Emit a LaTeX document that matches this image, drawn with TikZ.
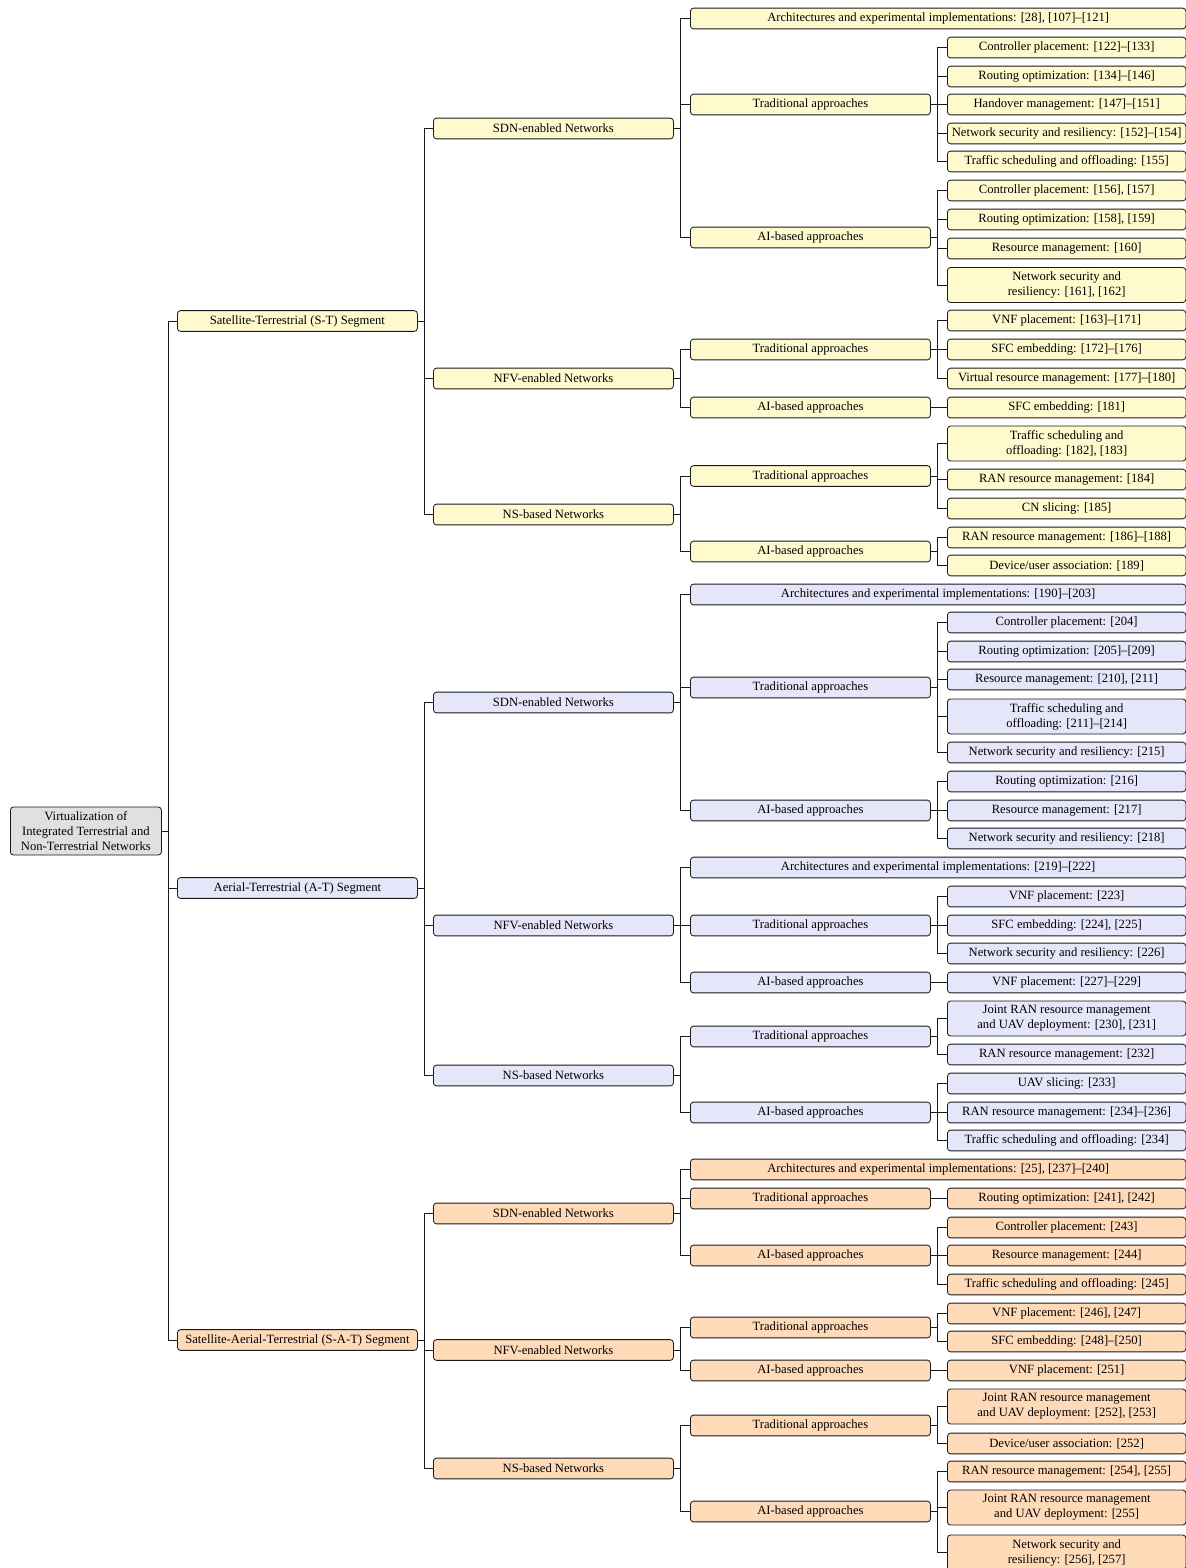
\documentclass[tikz,border=0pt]{standalone}
\usepackage{fontspec}
\setmainfont{Liberation Serif}
\definecolor{cy}{HTML}{FFFACD}
\definecolor{cl}{HTML}{E6E6FA}
\definecolor{cp}{HTML}{FFDAB9}
\definecolor{cg}{HTML}{E0E0E0}
\newcommand\forkto[2]{\foreach \c in {#2}{\draw[ed] (#1.east) -- ++(6.5,0) |- (\c.west);}}
\begin{document}
\begin{tikzpicture}[x=0.8pt,y=-0.8pt,
 bx/.style={draw=black!90, line width=0.65pt, rounded corners=2.5pt, inner sep=1pt, anchor=west, align=center, font=\fontsize{10.1}{12}\selectfont, minimum height=16.6pt},
 L1/.style={bx, minimum width=192pt},
 L4/.style={bx, minimum width=190.8pt},
 AR/.style={bx, minimum width=396.4pt},
 two/.style={minimum height=28pt},
 Y/.style={fill=cy}, V/.style={fill=cl}, P/.style={fill=cp},
 ed/.style={draw=black!90, line width=0.65pt}]
\useasboundingbox (0,0) rectangle (1186,1568);
% root
\node[bx, fill=cg, minimum width=120.8pt, minimum height=38.4pt] (root) at (10,831) {Virtualization of\\Integrated Terrestrial and\\Non-Terrestrial Networks};
% level 1
\node[L1,Y] (st) at (177,321) {Satellite-Terrestrial (S-T) Segment};
\node[L1,V] (at) at (177,888) {Aerial-Terrestrial (A-T) Segment};
\node[L1,P] (sat) at (177,1340) {Satellite-Aerial-Terrestrial (S-A-T) Segment};
% level 2
\node[L1,Y] (stsdn) at (433,128.5) {SDN-enabled Networks};
\node[L1,Y] (stnfv) at (433,378.5) {NFV-enabled Networks};
\node[L1,Y] (stns) at (433,514.5) {NS-based Networks};
\node[L1,V] (atsdn) at (433,702.5) {SDN-enabled Networks};
\node[L1,V] (atnfv) at (433,925.5) {NFV-enabled Networks};
\node[L1,V] (atns) at (433,1075.5) {NS-based Networks};
\node[L1,P] (satsdn) at (433,1213.5) {SDN-enabled Networks};
\node[L1,P] (satnfv) at (433,1350) {NFV-enabled Networks};
\node[L1,P] (satns) at (433,1468.5) {NS-based Networks};
% level 3
\node[AR,Y] (a1) at (690,18.5) {Architectures and experimental implementations: [28], [107]--[121]};
\node[L1,Y] (t1) at (690,104.5) {Traditional approaches};
\node[L1,Y] (i1) at (690,237.5) {AI-based approaches};
\node[L1,Y] (t2) at (690,349.5) {Traditional approaches};
\node[L1,Y] (i2) at (690,407.5) {AI-based approaches};
\node[L1,Y] (t3) at (690,476) {Traditional approaches};
\node[L1,Y] (i3) at (690,551.5) {AI-based approaches};
\node[AR,V] (a4) at (690,594.5) {Architectures and experimental implementations: [190]--[203]};
\node[L1,V] (t4) at (690,687.5) {Traditional approaches};
\node[L1,V] (i4) at (690,810.5) {AI-based approaches};
\node[AR,V] (a5) at (690,867.5) {Architectures and experimental implementations: [219]--[222]};
\node[L1,V] (t5) at (690,925.5) {Traditional approaches};
\node[L1,V] (i5) at (690,982.5) {AI-based approaches};
\node[L1,V] (t6) at (690,1036.5) {Traditional approaches};
\node[L1,V] (i6) at (690,1112.5) {AI-based approaches};
\node[AR,P] (a7) at (690,1169.5) {Architectures and experimental implementations: [25], [237]--[240]};
\node[L1,P] (t7) at (690,1198.5) {Traditional approaches};
\node[L1,P] (i7) at (690,1255.5) {AI-based approaches};
\node[L1,P] (t8) at (690,1327.5) {Traditional approaches};
\node[L1,P] (i8) at (690,1370.5) {AI-based approaches};
\node[L1,P] (t9) at (690,1425.5) {Traditional approaches};
\node[L1,P] (i9) at (690,1511.5) {AI-based approaches};
% level 4 S-T
\node[L4,Y] (l1) at (947,47.5) {Controller placement: [122]--[133]};
\node[L4,Y] (l2) at (947,76.5) {Routing optimization: [134]--[146]};
\node[L4,Y] (l3) at (947,104.5) {Handover management: [147]--[151]};
\node[L4,Y] (l4) at (947,133.5) {Network security and resiliency: [152]--[154]};
\node[L4,Y] (l5) at (947,161.5) {Traffic scheduling and offloading: [155]};
\node[L4,Y] (l6) at (947,190.5) {Controller placement: [156], [157]};
\node[L4,Y] (l7) at (947,219.5) {Routing optimization: [158], [159]};
\node[L4,Y] (l8) at (947,248.5) {Resource management: [160]};
\node[L4,Y,two] (l9) at (947,285) {Network security and\\resiliency: [161], [162]};
\node[L4,Y] (l10) at (947,320.5) {VNF placement: [163]--[171]};
\node[L4,Y] (l11) at (947,349.5) {SFC embedding: [172]--[176]};
\node[L4,Y] (l12) at (947,378.5) {Virtual resource management: [177]--[180]};
\node[L4,Y] (l13) at (947,407.5) {SFC embedding: [181]};
\node[L4,Y,two] (l14) at (947,443.5) {Traffic scheduling and\\offloading: [182], [183]};
\node[L4,Y] (l15) at (947,479.5) {RAN resource management: [184]};
\node[L4,Y] (l16) at (947,508.5) {CN slicing: [185]};
\node[L4,Y] (l17) at (947,537.5) {RAN resource management: [186]--[188]};
\node[L4,Y] (l18) at (947,565.5) {Device/user association: [189]};
% level 4 A-T
\node[L4,V] (m1) at (947,622.5) {Controller placement: [204]};
\node[L4,V] (m2) at (947,651.5) {Routing optimization: [205]--[209]};
\node[L4,V] (m3) at (947,679.5) {Resource management: [210], [211]};
\node[L4,V,two] (m4) at (947,716.5) {Traffic scheduling and\\offloading: [211]--[214]};
\node[L4,V] (m5) at (947,752.5) {Network security and resiliency: [215]};
\node[L4,V] (m6) at (947,781.5) {Routing optimization: [216]};
\node[L4,V] (m7) at (947,810.5) {Resource management: [217]};
\node[L4,V] (m8) at (947,838.5) {Network security and resiliency: [218]};
\node[L4,V] (m9) at (947,896.5) {VNF placement: [223]};
\node[L4,V] (m10) at (947,925.5) {SFC embedding: [224], [225]};
\node[L4,V] (m11) at (947,953.5) {Network security and resiliency: [226]};
\node[L4,V] (m12) at (947,982.5) {VNF placement: [227]--[229]};
\node[L4,V,two] (m13) at (947,1018.5) {Joint RAN resource management\\and UAV deployment: [230], [231]};
\node[L4,V] (m14) at (947,1054.5) {RAN resource management: [232]};
\node[L4,V] (m15) at (947,1083.5) {UAV slicing: [233]};
\node[L4,V] (m16) at (947,1112.5) {RAN resource management: [234]--[236]};
\node[L4,V] (m17) at (947,1140.5) {Traffic scheduling and offloading: [234]};
% level 4 S-A-T
\node[L4,P] (n1) at (947,1198.5) {Routing optimization: [241], [242]};
\node[L4,P] (n2) at (947,1227.5) {Controller placement: [243]};
\node[L4,P] (n3) at (947,1255.5) {Resource management: [244]};
\node[L4,P] (n4) at (947,1284.5) {Traffic scheduling and offloading: [245]};
\node[L4,P] (n5) at (947,1313.5) {VNF placement: [246], [247]};
\node[L4,P] (n6) at (947,1341.5) {SFC embedding: [248]--[250]};
\node[L4,P] (n7) at (947,1370.5) {VNF placement: [251]};
\node[L4,P,two] (n8) at (947,1406.5) {Joint RAN resource management\\and UAV deployment: [252], [253]};
\node[L4,P] (n9) at (947,1443.5) {Device/user association: [252]};
\node[L4,P] (n10) at (947,1471.5) {RAN resource management: [254], [255]};
\node[L4,P,two] (n11) at (947,1507.5) {Joint RAN resource management\\and UAV deployment: [255]};
\node[L4,P,two] (n12) at (947,1552.5) {Network security and\\resiliency: [256], [257]};
% edges
\forkto{root}{st,at,sat}
\forkto{st}{stsdn,stnfv,stns}
\forkto{at}{atsdn,atnfv,atns}
\forkto{sat}{satsdn,satnfv,satns}
\forkto{stsdn}{a1,t1,i1}
\forkto{stnfv}{t2,i2}
\forkto{stns}{t3,i3}
\forkto{atsdn}{a4,t4,i4}
\forkto{atnfv}{a5,t5,i5}
\forkto{atns}{t6,i6}
\forkto{satsdn}{a7,t7,i7}
\forkto{satnfv}{t8,i8}
\forkto{satns}{t9,i9}
\forkto{t1}{l1,l2,l3,l4,l5}
\forkto{i1}{l6,l7,l8,l9}
\forkto{t2}{l10,l11,l12}
\forkto{i2}{l13}
\forkto{t3}{l14,l15,l16}
\forkto{i3}{l17,l18}
\forkto{t4}{m1,m2,m3,m4,m5}
\forkto{i4}{m6,m7,m8}
\forkto{t5}{m9,m10,m11}
\forkto{i5}{m12}
\forkto{t6}{m13,m14}
\forkto{i6}{m15,m16,m17}
\forkto{t7}{n1}
\forkto{i7}{n2,n3,n4}
\forkto{t8}{n5,n6}
\forkto{i8}{n7}
\forkto{t9}{n8,n9}
\forkto{i9}{n10,n11,n12}
\end{tikzpicture}
\end{document}
